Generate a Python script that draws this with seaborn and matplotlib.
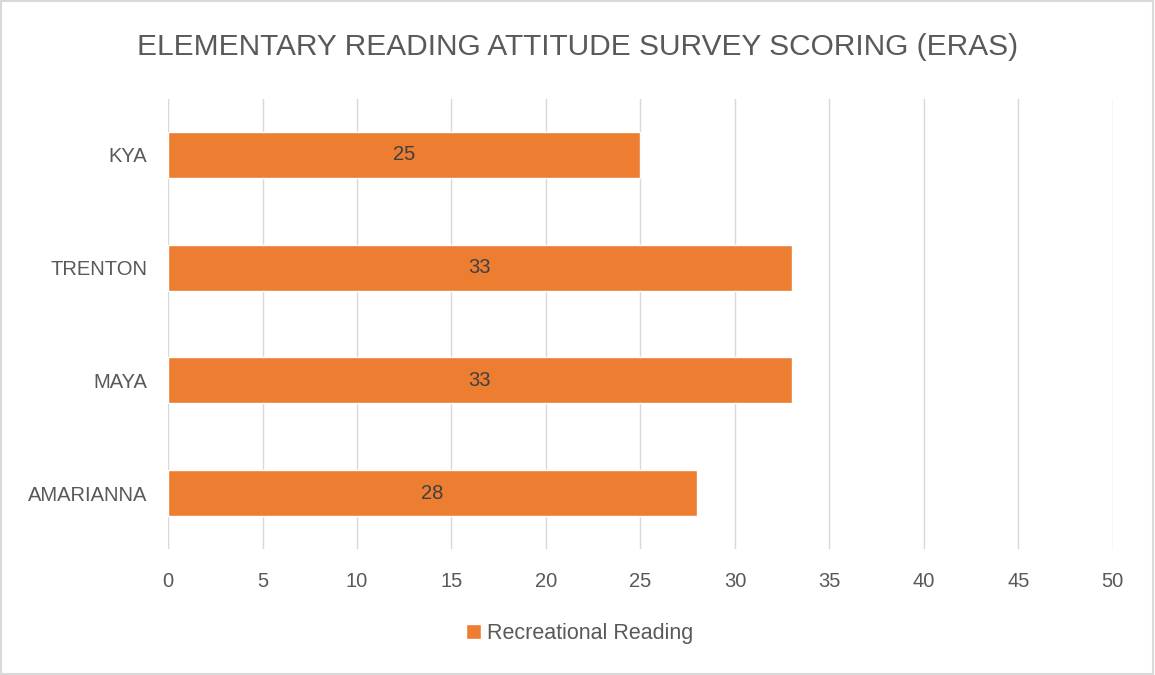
import matplotlib
matplotlib.use("Agg")
import matplotlib.pyplot as plt
import seaborn as sns
import pandas as pd
from matplotlib.patches import Rectangle

students = ["KYA", "TRENTON", "MAYA", "AMARIANNA"]
scores = [25, 33, 33, 28]
series_name = "Recreational Reading"
xticks = [0, 5, 10, 15, 20, 25, 30, 35, 40, 45, 50]
title = "ELEMENTARY READING ATTITUDE SURVEY SCORING (ERAS)"

df = pd.DataFrame({"Student": students, "Score": scores, "Series": series_name})

sns.set_theme(style="white")
plt.rcParams["font.family"] = ["Liberation Sans", "DejaVu Sans"]

TXT = "#595959"
ORANGE = "#ED7D31"
GRID = "#D9D9D9"
FS = 14.5

fig = plt.figure(figsize=(11.55, 6.75), dpi=100)
ax = fig.add_axes([0.1455, 0.186, 0.818, 0.668])

sns.barplot(data=df, x="Score", y="Student", hue="Series", palette=[ORANGE],
            orient="h", width=0.41, ax=ax, legend=True, saturation=1)

ax.set_xlim(0, 50)
ax.set_xticks(xticks)
ax.set_xlabel("")
ax.set_ylabel("")
ax.grid(axis="x", color=GRID, linewidth=1)
ax.set_axisbelow(True)
for s in ax.spines.values():
    s.set_visible(False)
ax.tick_params(axis="x", colors=TXT, labelsize=FS, length=0, pad=16)
ax.tick_params(axis="y", colors=TXT, labelsize=FS, length=0, pad=15)

for c in ax.containers:
    ax.bar_label(c, label_type="center", color="#404040", fontsize=FS)

leg = ax.legend(loc="center", bbox_to_anchor=(0.502, 0.062), bbox_transform=fig.transFigure,
                frameon=False, fontsize=15.5, handlelength=0.7, handleheight=0.7,
                handletextpad=0.3, labelcolor=TXT)

fig.text(0.5, 0.931, title, ha="center", va="center", fontsize=21.5, color=TXT)

fig.patches.append(Rectangle((0.001, 0.001), 0.997, 0.997, transform=fig.transFigure,
                             fill=False, edgecolor="#D9D9D9", linewidth=1.5))

fig.savefig("out.png", dpi=100, facecolor="white")
